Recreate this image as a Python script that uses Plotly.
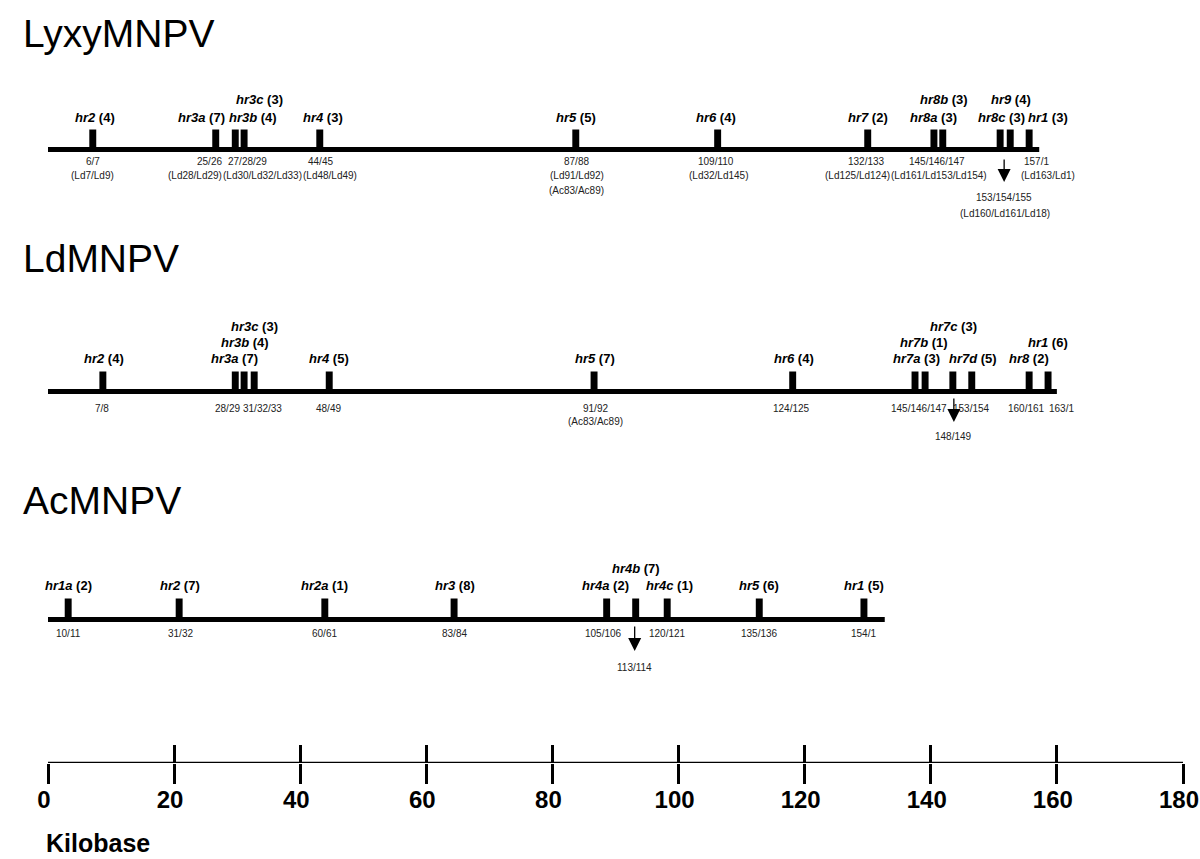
import plotly.graph_objects as go

# ---------------- DATA ----------------
GENOMES = ["LyxyMNPV", "LdMNPV", "AcMNPV"]
GENOME_LEN_KB = [157.2, 160.0, 132.7]

LYXY_HR = ["hr2", "hr3a", "hr3b", "hr3c", "hr4", "hr5", "hr6", "hr7", "hr8a", "hr8b", "hr8c", "hr9", "hr1"]
LYXY_KB = [7.1, 26.6, 29.7, 31.1, 43.1, 83.7, 106.2, 130.0, 140.5, 141.9, 151.0, 152.6, 155.6]
LYXY_REP = [4, 7, 4, 3, 3, 5, 4, 2, 3, 3, 3, 4, 3]
LYXY_ORF_ANCHOR = ["hr2", "hr3a", "hr3b", "hr4", "hr5", "hr6", "hr7", "hr8a", "hr1", "hr8c"]
LYXY_ORF = ["6/7", "25/26", "27/28/29", "44/45", "87/88", "109/110", "132/133", "145/146/147", "157/1", "153/154/155"]
LYXY_ORF_LD = ["(Ld7/Ld9)", "(Ld28/Ld29)", "(Ld30/Ld32/Ld33)", "(Ld48/Ld49)", "(Ld91/Ld92)", "(Ld32/Ld145)",
               "(Ld125/Ld124)", "(Ld161/Ld153/Ld154)", "(Ld163/Ld1)", "(Ld160/Ld161/Ld18)"]
LYXY_ORF_AC = ["", "", "", "", "(Ac83/Ac89)", "", "", "", "", ""]
LYXY_ORF_ARROW = [False, False, False, False, False, False, False, False, False, True]

LD_HR = ["hr2", "hr3a", "hr3b", "hr3c", "hr4", "hr5", "hr6", "hr7a", "hr7b", "hr7c", "hr7d", "hr8", "hr1"]
LD_KB = [8.7, 29.7, 31.1, 32.7, 44.6, 86.6, 118.1, 137.5, 139.1, 143.5, 146.5, 155.6, 158.6]
LD_REP = [4, 7, 4, 3, 5, 7, 4, 3, 1, 3, 5, 2, 6]
LD_ORF_ANCHOR = ["hr2", "hr3a", "hr3c", "hr4", "hr5", "hr6", "hr7a", "hr7d", "hr8", "hr1", "hr7c"]
LD_ORF = ["7/8", "28/29", "31/32/33", "48/49", "91/92", "124/125", "145/146/147", "153/154", "160/161", "163/1", "148/149"]
LD_ORF_LD = ["", "", "", "", "", "", "", "", "", "", ""]
LD_ORF_AC = ["", "", "", "", "(Ac83/Ac89)", "", "", "", "", "", ""]
LD_ORF_ARROW = [False, False, False, False, False, False, False, False, False, False, True]

AC_HR = ["hr1a", "hr2", "hr2a", "hr3", "hr4a", "hr4b", "hr4c", "hr5", "hr1"]
AC_KB = [3.2, 20.8, 43.9, 64.4, 88.6, 93.2, 98.2, 112.8, 129.4]
AC_REP = [2, 7, 1, 8, 2, 7, 1, 6, 5]
AC_ORF_ANCHOR = ["hr1a", "hr2", "hr2a", "hr3", "hr4a", "hr4c", "hr5", "hr1", "hr4b"]
AC_ORF = ["10/11", "31/32", "60/61", "83/84", "105/106", "120/121", "135/136", "154/1", "113/114"]
AC_ORF_LD = ["", "", "", "", "", "", "", "", ""]
AC_ORF_AC = ["", "", "", "", "", "", "", "", ""]
AC_ORF_ARROW = [False, False, False, False, False, False, False, False, True]

SCALE_TICKS = [0, 20, 40, 60, 80, 100, 120, 140, 160, 180]
SCALE_LABELS = ["0", "20", "40", "60", "80", "100", "120", "140", "160", "180"]
AXIS_TITLE = "Kilobase"

DATA = {
    "LyxyMNPV": dict(hr=LYXY_HR, kb=LYXY_KB, rep=LYXY_REP, anchor=LYXY_ORF_ANCHOR, orf=LYXY_ORF,
                     ld=LYXY_ORF_LD, ac=LYXY_ORF_AC, arrow=LYXY_ORF_ARROW),
    "LdMNPV": dict(hr=LD_HR, kb=LD_KB, rep=LD_REP, anchor=LD_ORF_ANCHOR, orf=LD_ORF,
                   ld=LD_ORF_LD, ac=LD_ORF_AC, arrow=LD_ORF_ARROW),
    "AcMNPV": dict(hr=AC_HR, kb=AC_KB, rep=AC_REP, anchor=AC_ORF_ANCHOR, orf=AC_ORF,
                   ld=AC_ORF_LD, ac=AC_ORF_AC, arrow=AC_ORF_ARROW),
}

# ---------------- LAYOUT / STYLE ----------------
PAGE_OFF = 0               # body margin is removed by the post script below
W, H = 1200, 859
X0_PX, X1_PX = 48, 1183    # page pixels of 0 kb and 180 kb
SCALE_Y = 763              # page pixel row of the kilobase scale line
ML = X0_PX - PAGE_OFF
MR = W - ML - (X1_PX - X0_PX)
MT = 0
MB = H - (SCALE_Y - PAGE_OFF)
PLOT_W = X1_PX - X0_PX
FONT = "Liberation Sans, Arial, Helvetica, sans-serif"
BAR_W = 1.1

ROW = {
    "LyxyMNPV": dict(line_y=149.5, bar_h=20, title_y=33, lvl0=117, step=18,
                     orf_y=[161, 175, 190], arrow=(158, 182), arrow_lbl=[197, 213]),
    "LdMNPV": dict(line_y=391.5, bar_h=20, title_y=258, lvl0=358, step=15.7,
                   orf_y=[408, 421, 435], arrow=(397, 422), arrow_lbl=[436, 450]),
    "AcMNPV": dict(line_y=619.5, bar_h=21, title_y=500, lvl0=585, step=16.7,
                   orf_y=[633.5, 647, 661], arrow=(625, 651), arrow_lbl=[667, 681]),
}

# hr label placement: name -> (xshift px, stacking level)
HR_LABEL_POS = {
    "LyxyMNPV": {"hr2": (2, 0), "hr3a": (-14, 0), "hr3b": (18, 0), "hr3c": (15, 1), "hr4": (3, 0),
                 "hr5": (0, 0), "hr6": (-2, 0), "hr7": (0, 0), "hr8a": (0, 0), "hr8b": (1, 1),
                 "hr8c": (1, 0), "hr9": (1, 1), "hr1": (19, 0)},
    "LdMNPV": {"hr2": (1, 0), "hr3a": (-1, 0), "hr3b": (1, 1), "hr3c": (0, 2), "hr4": (0, 0),
               "hr5": (1, 0), "hr6": (1, 0), "hr7a": (1, 0), "hr7b": (-1, 1), "hr7c": (1, 2),
               "hr7d": (1, 0), "hr8": (0, 0), "hr1": (0, 1)},
    "AcMNPV": {"hr1a": (0, 0), "hr2": (1, 0), "hr2a": (0, 0), "hr3": (1, 0), "hr4a": (-1, 0),
               "hr4b": (0, 1), "hr4c": (2, 0), "hr5": (0, 0), "hr1": (0, 0)},
}
# ORF label x-shift (px) for each text line
ORF_DX = {
    "LyxyMNPV": [(0, 0, 0), (-6, -21, 0), (12, 27, 0), (1, 10, 0), (1, 1, 1), (-2, 1, 0),
                 (-1, -10, 0), (3, 5, 0), (7, 19, 0), (4, 5, 0)],
    "LdMNPV": [(-1, 0, 0), (-8, 0, 0), (8, 0, 0), (-1, 0, 0), (1, 1, 1), (-1, 0, 0),
               (4, 0, 0), (0, 0, 0), (-3, 0, 0), (13, 0, 0), (1, 0, 0)],
    "AcMNPV": [(0, 0, 0), (1, 0, 0), (0, 0, 0), (0, 0, 0), (-3, 0, 0), (0, 0, 0),
               (0, 0, 0), (0, 0, 0), (-1, 0, 0)],
}


def paper_x(px):
    return (px - X0_PX) / PLOT_W


def paper_y(py):
    return (SCALE_Y - py) / (SCALE_Y - PAGE_OFF - MT)


fig = go.Figure()
annotations = []

for gname, glen in zip(GENOMES, GENOME_LEN_KB):
    d = DATA[gname]
    r = ROW[gname]
    # genome backbone
    fig.add_trace(go.Scatter(x=[0, glen], y=[r["line_y"], r["line_y"]], mode="lines",
                             line=dict(color="black", width=5), hoverinfo="skip", showlegend=False))
    # hr bars
    fig.add_trace(go.Bar(x=d["kb"], y=[-r["bar_h"]] * len(d["kb"]), base=r["line_y"], width=BAR_W,
                         marker=dict(color="black", line=dict(width=0)), hoverinfo="skip",
                         showlegend=False))
    # title
    annotations.append(dict(text=gname, xref="paper", yref="y", x=paper_x(21), y=r["title_y"],
                            xanchor="left", yanchor="middle", showarrow=False,
                            font=dict(family=FONT, size=39, color="black")))
    kb_of = dict(zip(d["hr"], d["kb"]))
    # hr labels
    for name, kb, rep in zip(d["hr"], d["kb"], d["rep"]):
        dx, lvl = HR_LABEL_POS[gname][name]
        annotations.append(dict(text=f"<i>{name}</i> ({rep})", x=kb, xref="x", xshift=dx,
                                y=r["lvl0"] - lvl * r["step"], yref="y", xanchor="center",
                                yanchor="middle", showarrow=False,
                                font=dict(family=FONT, size=13, color="black", weight="bold")))
    # ORF labels
    for i, (anc, t1, t2, t3, arr) in enumerate(zip(d["anchor"], d["orf"], d["ld"], d["ac"], d["arrow"])):
        kb = kb_of[anc]
        dxs = ORF_DX[gname][i]
        lines = [t for t in (t1, t2, t3) if t]
        if arr:
            ys = r["arrow_lbl"]
            head, tail = r["arrow"][1], r["arrow"][0]
            annotations.append(dict(text="", x=kb, y=head, xref="x", yref="y", xshift=dxs[0],
                                    ax=0, ay=-(head - tail), showarrow=True, arrowhead=2,
                                    arrowsize=2.0, arrowwidth=1.3, arrowcolor="black", standoff=0))
        else:
            ys = r["orf_y"]
        for j, t in enumerate(lines):
            annotations.append(dict(text=t, x=kb, xref="x", xshift=dxs[j], y=ys[j], yref="y",
                                    xanchor="center", yanchor="middle", showarrow=False,
                                    font=dict(family=FONT, size=10, color="#222222")))

# scale bar line (drawn on the overlay axis that carries the upward ticks)
fig.add_trace(go.Scatter(x=[SCALE_TICKS[0], SCALE_TICKS[-1]], y=[SCALE_Y, SCALE_Y], xaxis="x2",
                         mode="lines", line=dict(color="black", width=2.5), hoverinfo="skip",
                         showlegend=False))

annotations.append(dict(text=AXIS_TITLE, xref="paper", yref="paper", x=paper_x(44), y=paper_y(843),
                        xanchor="left", yanchor="middle", showarrow=False,
                        font=dict(family=FONT, size=25, color="black", weight="bold")))

fig.update_layout(
    width=W, height=H, margin=dict(l=ML, r=MR, t=MT, b=MB, pad=0),
    paper_bgcolor="white", plot_bgcolor="white", barmode="overlay", showlegend=False,
    annotations=annotations,
    xaxis=dict(range=[SCALE_TICKS[0], SCALE_TICKS[-1]], tickmode="array", tickvals=SCALE_TICKS,
               ticktext=SCALE_LABELS, ticks="outside", ticklen=20, tickwidth=2.5, tickcolor="black",
               showline=False, showgrid=False, zeroline=False, automargin=False,
               ticklabeloverflow="allow", ticklabelstandoff=-5, ticklabelshift=-4,
               tickfont=dict(family=FONT, size=24, color="black", weight="bold")),
    xaxis2=dict(range=[SCALE_TICKS[0], SCALE_TICKS[-1]], overlaying="x", anchor="y", side="bottom",
                tickmode="array", tickvals=SCALE_TICKS, ticks="inside", ticklen=18, tickwidth=2.5,
                tickcolor="black", showticklabels=False, showline=False, showgrid=False,
                zeroline=False, automargin=False),
    yaxis=dict(range=[SCALE_Y, PAGE_OFF + MT], visible=False, showgrid=False, zeroline=False,
               automargin=False),
)

fig.write_html("out.html", config={"displayModeBar": False},
               post_script="document.body.style.margin='0px'; document.body.style.overflow='hidden';")
